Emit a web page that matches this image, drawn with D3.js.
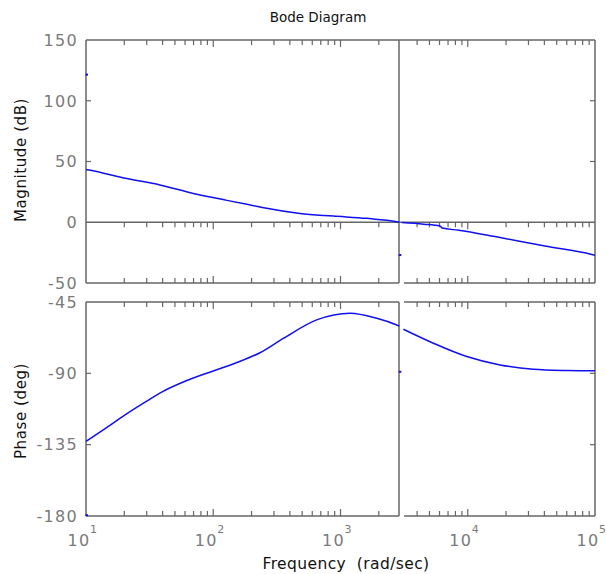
<!DOCTYPE html>
<html>
<head>
<meta charset="utf-8">
<script src="https://cdn.jsdelivr.net/npm/d3@7"></script>
<style>
  html, body { margin: 0; padding: 0; background: #fff; }
  svg { display: block; }
</style>
</head>
<body>
<svg id="chart" width="607" height="574"></svg>
<script>
// ---------------- data ----------------
const title = "Bode Diagram";
const xLabel = "Frequency  (rad/sec)";
const magLabel = "Magnitude (dB)";
const phaseLabel = "Phase (deg)";

const freqDomain = [10, 1e5];
const xTickExponents = [1, 2, 3, 4, 5];
const magTicks = [150, 100, 50, 0, -50];
const phaseTicks = [-45, -90, -135, -180];

// magnitude (dB), left piece (below split) and right piece (above split)
const magLeftFreq  = [10, 10.6, 20.9, 38, 69.7, 128, 233, 263, 481, 878, 1607, 2767, 2900];
const magLeftDb    = [43.5, 43, 36, 30.7, 23.7, 18, 12.6, 11.5, 7.2, 5.1, 3.2, 0.5, 0.1];
const magRightFreq = [3030, 4500, 6050, 6300, 8500, 16370, 40450, 94200, 100000];
const magRightDb   = [-0.3, -1.6, -3.1, -4.8, -6.6, -11.8, -19.6, -26.5, -27.2];

// phase (deg)
const phLeftFreq  = [10, 15, 20, 30, 40, 60, 100, 150, 233, 355, 650, 1189, 1928, 2767, 2900];
const phLeftDeg   = [-133, -123.5, -116.5, -107.5, -101.5, -95, -88.5, -83.5, -77, -68, -56.3, -52.1, -55.3, -59.5, -60.2];
const phRightFreq = [3120, 5370, 9820, 17950, 32760, 59840, 94200, 100000];
const phRightDeg  = [-62.2, -71, -79.4, -84.7, -87.4, -88.2, -88.4, -88.4];

// stray marks visible in the picture
const magStrayFreq = [10, 2900];
const magStrayDb   = [121.5, -27];
const phStrayFreq  = [10, 2900];
const phStrayDeg   = [-179.5, -89];

// ---------------- layout ----------------
const L = 86, R = 595;
const magTop = 40, magBot = 283;
const phTop = 302, phBot = 516;
const splitX = 399, gapEnd = 404;

const axisColor = "#666666";
const lineColor = "#1010f0";
const tickColor = "#7a7a7a";
const font = "'DejaVu Sans', 'Liberation Sans', Arial, sans-serif";

const svg = d3.select("#chart");

const x = d3.scaleLog().domain(freqDomain).range([L, R]);
const yMag = d3.scaleLinear().domain([-50, 150]).range([magBot, magTop]);
const yPh = d3.scaleLinear().domain([-180, -45]).range([phBot, phTop]);

// tick frequencies
const minorFreqs = [];
for (let e = 1; e < 5; e++) for (let m = 2; m <= 9; m++) minorFreqs.push(m * Math.pow(10, e));
const majorFreqs = xTickExponents.map(e => Math.pow(10, e));
const allTicks = majorFreqs.map(f => ({f, major: true})).concat(minorFreqs.map(f => ({f, major: false})));
const visibleTicks = allTicks.filter(t => {
  const px = x(t.f);
  return (px > L + 1 && px < splitX - 2) || (px > gapEnd + 2 && px < R - 1);
});

const g = svg.append("g");

function hline(y, x1, x2) {
  g.append("line").attr("x1", x1).attr("x2", x2).attr("y1", y).attr("y2", y)
    .attr("stroke", axisColor).attr("stroke-width", 1.5);
}
function vline(xx, y1, y2) {
  g.append("line").attr("x1", xx).attr("x2", xx).attr("y1", y1).attr("y2", y2)
    .attr("stroke", axisColor).attr("stroke-width", 1.5);
}
function xTicks(y, dir) {
  g.selectAll(null).data(visibleTicks).enter().append("line")
    .attr("x1", d => x(d.f)).attr("x2", d => x(d.f))
    .attr("y1", y).attr("y2", d => y + dir * (d.major ? 7 : 5))
    .attr("stroke", axisColor).attr("stroke-width", 1.2);
}
function yTicks(scale, vals) {
  vals.forEach(v => {
    const yy = scale(v);
    g.append("line").attr("x1", L).attr("x2", L + 5).attr("y1", yy).attr("y2", yy)
      .attr("stroke", axisColor).attr("stroke-width", 1.2);
    g.append("line").attr("x1", R - 5).attr("x2", R).attr("y1", yy).attr("y2", yy)
      .attr("stroke", axisColor).attr("stroke-width", 1.2);
  });
}

// ---- magnitude axes ----
hline(magTop, L, R);
hline(yMag(0), L, R);
hline(magBot, L, splitX);
hline(magBot, gapEnd, R);
vline(L, magTop, magBot);
vline(R, magTop, magBot);
vline(splitX, magTop, magBot);
xTicks(magTop, 1);
xTicks(yMag(0), 1);
xTicks(magBot, -1);
yTicks(yMag, [100, 50]);

// ---- phase axes ----
hline(phTop, L, splitX);
hline(phTop, gapEnd, R);
hline(phBot, L, splitX);
hline(phBot, gapEnd, R);
vline(L, phTop, phBot);
vline(R, phTop, phBot);
vline(splitX, phTop, phBot);
xTicks(phTop, 1);
xTicks(phBot, -1);
yTicks(yPh, [-90, -135]);

// ---- curves ----
const lineGen = (ys) => d3.line().x(d => x(d[0])).y(d => ys(d[1])).curve(d3.curveMonotoneX);
function curve(fs, vs, ys) {
  const pts = fs.map((f, i) => [f, vs[i]]);
  svg.append("path").datum(pts).attr("d", lineGen(ys))
    .attr("fill", "none").attr("stroke", lineColor).attr("stroke-width", 1.5);
}
curve(magLeftFreq, magLeftDb, yMag);
curve(magRightFreq, magRightDb, yMag);
curve(phLeftFreq, phLeftDeg, yPh);
curve(phRightFreq, phRightDeg, yPh);

function stray(fs, vs, ys) {
  fs.forEach((f, i) => {
    const px = x(f), py = ys(vs[i]);
    svg.append("rect").attr("x", px - 0.5).attr("y", py - 1).attr("width", 2.5).attr("height", 2)
      .attr("fill", lineColor);
  });
}
stray(magStrayFreq, magStrayDb, yMag);
stray(phStrayFreq, phStrayDeg, yPh);

// ---- tick labels ----
function yLabels(scale, vals) {
  g.selectAll(null).data(vals).enter().append("text")
    .attr("x", L - 8).attr("y", d => scale(d)).attr("dy", "0.36em")
    .attr("text-anchor", "end").attr("font-family", font).attr("font-size", 16)
    .attr("letter-spacing", 1.3).attr("fill", tickColor).text(d => d);
}
yLabels(yMag, magTicks);
yLabels(yPh, phaseTicks);

xTickExponents.forEach(e => {
  const px = x(Math.pow(10, e));
  g.append("text").attr("x", px - 7).attr("y", 546)
    .attr("text-anchor", "middle").attr("font-family", font).attr("font-size", 16)
    .attr("letter-spacing", 1.3).attr("fill", tickColor).text("10");
  g.append("text").attr("x", px + 4).attr("y", 533)
    .attr("text-anchor", "start").attr("font-family", font).attr("font-size", 11)
    .attr("fill", tickColor).text(e);
});

// ---- titles ----
svg.append("text").attr("x", 318).attr("y", 22).attr("text-anchor", "middle")
  .attr("font-family", font).attr("font-size", 13.5).attr("fill", "#111").text(title);
svg.append("text").attr("x", 346).attr("y", 569).attr("text-anchor", "middle")
  .attr("font-family", font).attr("font-size", 15.5).attr("letter-spacing", 0.4)
  .attr("fill", "#111").style("white-space", "pre").attr("xml:space", "preserve").text(xLabel);
svg.append("text").attr("transform", `translate(26,160) rotate(-90)`)
  .attr("text-anchor", "middle").attr("font-family", font).attr("font-size", 15)
  .attr("letter-spacing", 0.6).attr("fill", "#111").text(magLabel);
svg.append("text").attr("transform", `translate(26,411) rotate(-90)`)
  .attr("text-anchor", "middle").attr("font-family", font).attr("font-size", 15)
  .attr("letter-spacing", 0.6).attr("fill", "#111").text(phaseLabel);
</script>
</body>
</html>
